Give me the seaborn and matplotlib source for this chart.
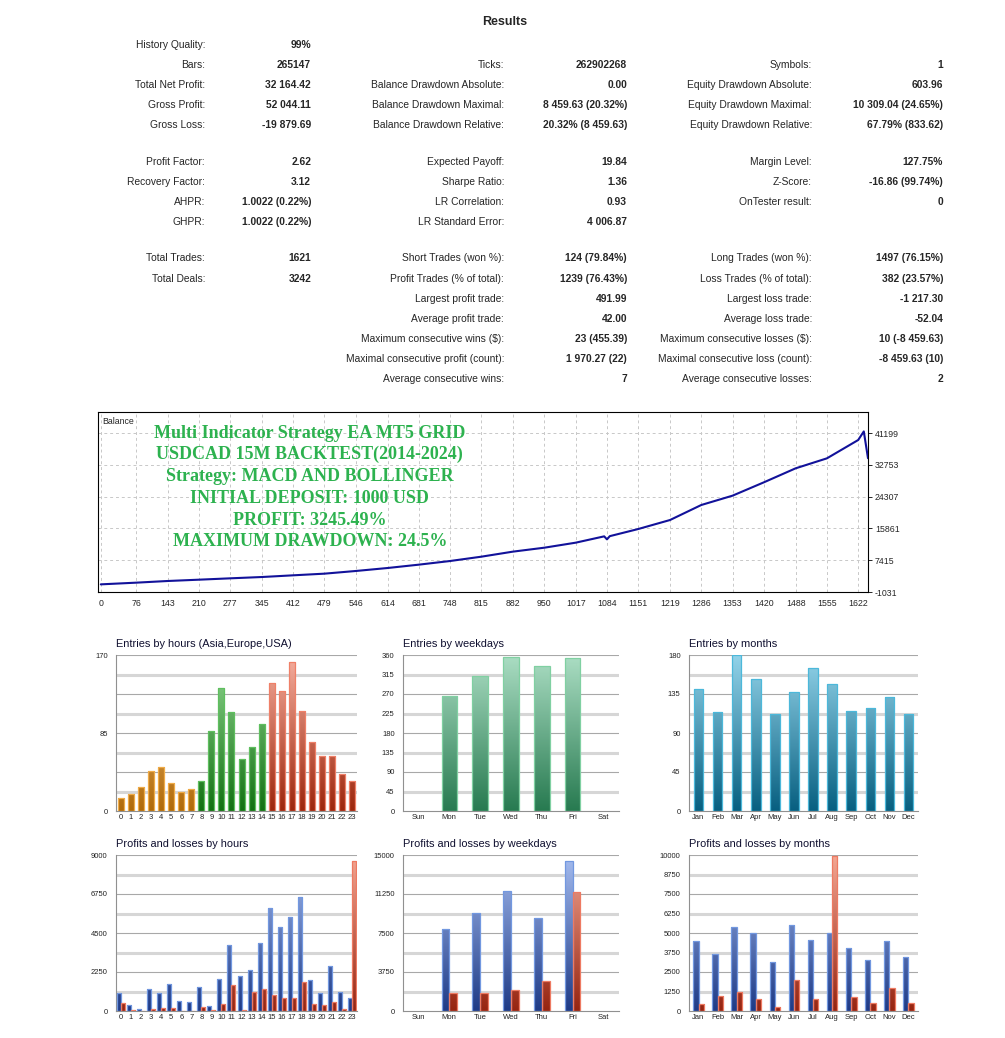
import numpy as np
import pandas as pd
import matplotlib
matplotlib.use("Agg")
import matplotlib.pyplot as plt
import seaborn as sns
from matplotlib.colors import LinearSegmentedColormap, to_hex

sns.set_style("white")
plt.rcParams["font.family"] = ["Liberation Sans", "DejaVu Sans"]

# ------------------------------------------------ data ------------------------------------------------

col1_labels = ["History Quality:", "Bars:", "Total Net Profit:", "Gross Profit:", "Gross Loss:",
               None, "Profit Factor:", "Recovery Factor:", "AHPR:", "GHPR:",
               None, "Total Trades:", "Total Deals:"]
col1_values = ["99%", "265147", "32 164.42", "52 044.11", "-19 879.69",
               None, "2.62", "3.12", "1.0022 (0.22%)", "1.0022 (0.22%)",
               None, "1621", "3242"]
col2_labels = [None, "Ticks:", "Balance Drawdown Absolute:", "Balance Drawdown Maximal:", "Balance Drawdown Relative:",
               None, "Expected Payoff:", "Sharpe Ratio:", "LR Correlation:", "LR Standard Error:",
               None, "Short Trades (won %):", "Profit Trades (% of total):", "Largest profit trade:",
               "Average profit trade:", "Maximum consecutive wins ($):", "Maximal consecutive profit (count):",
               "Average consecutive wins:"]
col2_values = [None, "262902268", "0.00", "8 459.63 (20.32%)", "20.32% (8 459.63)",
               None, "19.84", "1.36", "0.93", "4 006.87",
               None, "124 (79.84%)", "1239 (76.43%)", "491.99", "42.00", "23 (455.39)", "1 970.27 (22)", "7"]
col3_labels = [None, "Symbols:", "Equity Drawdown Absolute:", "Equity Drawdown Maximal:", "Equity Drawdown Relative:",
               None, "Margin Level:", "Z-Score:", "OnTester result:", None,
               None, "Long Trades (won %):", "Loss Trades (% of total):", "Largest loss trade:",
               "Average loss trade:", "Maximum consecutive losses ($):", "Maximal consecutive loss (count):",
               "Average consecutive losses:"]
col3_values = [None, "1", "603.96", "10 309.04 (24.65%)", "67.79% (833.62)",
               None, "127.75%", "-16.86 (99.74%)", "0", None,
               None, "1497 (76.15%)", "382 (23.57%)", "-1 217.30", "-52.04", "10 (-8 459.63)", "-8 459.63 (10)", "2"]

balance_trade = [0, 76, 143, 210, 277, 345, 412, 479, 546, 614, 681, 748, 815, 882, 950, 1017,
                 1078, 1084, 1090, 1151, 1219, 1286, 1353, 1420, 1488, 1555, 1622, 1634, 1643]
balance_value = [1000, 1450, 1890, 2240, 2600, 2950, 3400, 3840, 4550, 5340, 6230, 7200, 8350, 9680, 10740, 12070,
                 13750, 12950, 13800, 15700, 18090, 22080, 24560, 28100, 31820, 34470, 39340, 41620, 34500]
balance_xticks = [0, 76, 143, 210, 277, 345, 412, 479, 546, 614, 681, 748, 815, 882, 950, 1017, 1084,
                  1151, 1219, 1286, 1353, 1420, 1488, 1555, 1622]
balance_yticks = [-1031, 7415, 15861, 24307, 32753, 41199]
balance_notes = ["Multi Indicator Strategy EA MT5 GRID", "USDCAD 15M BACKTEST(2014-2024)",
                 "Strategy: MACD AND BOLLINGER", "INITIAL DEPOSIT: 1000 USD",
                 "PROFIT: 3245.49%", "MAXIMUM DRAWDOWN: 24.5%"]

hours = [str(h) for h in range(24)]
hour_session = ["Asia"] * 8 + ["Europe"] * 7 + ["USA"] * 9
entries_hours = [14, 18, 26, 44, 48, 30, 21, 24, 33, 87, 134, 108, 57, 70, 95,
                 139, 131, 162, 109, 75, 60, 60, 40, 33]
weekdays = ["Sun", "Mon", "Tue", "Wed", "Thu", "Fri", "Sat"]
entries_weekdays = [0, 265, 312, 356, 335, 353, 0]
months = ["Jan", "Feb", "Mar", "Apr", "May", "Jun", "Jul", "Aug", "Sep", "Oct", "Nov", "Dec"]
entries_months = [141, 114, 180, 152, 112, 137, 165, 147, 115, 119, 132, 112]

profit_hours = [1020, 370, 135, 1250, 1040, 1560, 560, 540, 1390, 310, 1830, 3800,
                2020, 2370, 3950, 5920, 4820, 5420, 6590, 1810, 1020, 2580, 1100, 730]
loss_hours = [440, 40, 10, 135, 175, 175, 20, 20, 230, 80, 385, 1480,
              80, 1080, 1290, 945, 770, 750, 1660, 385, 330, 500, 135, 8650]
profit_weekdays = [0, 7840, 9380, 11500, 8990, 14390, 0]
loss_weekdays = [0, 1730, 1730, 2060, 2860, 11440, 0]
profit_months = [4500, 3660, 5400, 5030, 3170, 5520, 4520, 4970, 4030, 3250, 4480, 3450]
loss_months = [470, 960, 1220, 750, 235, 1990, 750, 9960, 900, 490, 1460, 490]

# ------------------------------------------------ helpers ------------------------------------------------

W, H = 1005, 1038
fig = plt.figure(figsize=(W / 100, H / 100), dpi=100)


def px_axes(x0, y0, x1, y1):
    # box given in pixels, y from top
    return fig.add_axes([x0 / W, 1 - y1 / H, (x1 - x0) / W, (y1 - y0) / H])


def gradient_fill(ax, patch, bottom, top, edge, ymax):
    h = patch.get_height()
    if h <= 0:
        patch.set_visible(False)
        return
    cmap = LinearSegmentedColormap.from_list("g", [bottom, top])
    x0 = patch.get_x()
    w = patch.get_width()
    im = ax.imshow(np.linspace(0, 1, 256).reshape(-1, 1), cmap=cmap, origin="lower",
                   aspect="auto", extent=(x0, x0 + w, 0, ymax), zorder=2, interpolation="bilinear")
    im.set_clip_path(patch)
    patch.set_facecolor("none")
    patch.set_edgecolor(edge)
    patch.set_linewidth(0.9)
    patch.set_zorder(3)


def style_small(ax, title, cats, ymax, ticks):
    n = len(cats)
    step = ymax / 8
    for k in range(1, 9):
        if k % 2 == 0:
            ax.axhline(k * step, color="#a8a8a8", lw=0.8, zorder=1)
        else:
            ax.axhline(k * step, color="#d6d6d6", lw=2.2, zorder=1)
    ax.set_xlim(-0.5, n - 0.5)
    ax.set_ylim(0, ymax)
    ax.set_yticks(ticks)
    ax.set_yticklabels([str(t) for t in ticks], fontsize=5.5, color="#222222")
    ax.set_xticks(range(n))
    ax.set_xticklabels(cats, fontsize=5.5, color="#222222")
    ax.set_xticks(np.arange(-0.5, n, 1), minor=True)
    ax.tick_params(axis="x", which="major", length=0, pad=2)
    ax.tick_params(axis="x", which="minor", length=3, color="#909090", width=0.8)
    ax.tick_params(axis="y", length=3, color="#909090", width=0.8, pad=3)
    ax.set_xlabel("")
    ax.set_ylabel("")
    for s in ["top", "right"]:
        ax.spines[s].set_visible(False)
    for s in ["left", "bottom"]:
        ax.spines[s].set_color("#909090")
        ax.spines[s].set_linewidth(0.8)
    ax.text(0.0, 1.04, title, transform=ax.transAxes, fontsize=7.9, color="#101030", va="bottom", ha="left")
    ax.set_facecolor("white")


def entries_chart(box, title, cats, values, ymax, ticks, width, colors):
    ax = px_axes(*box)
    df = pd.DataFrame({"cat": cats, "value": values})
    sns.barplot(data=df, x="cat", y="value", order=cats, color="#888888", width=width, ax=ax)
    for p in ax.patches:
        i = int(round(p.get_x() + p.get_width() / 2))
        bottom, top, edge = colors[i]
        gradient_fill(ax, p, bottom, top, edge, ymax)
    style_small(ax, title, cats, ymax, ticks)
    return ax


profit_style = ("#1e3a86", "#a6bdf0", "#7298e0")
loss_style = ("#962410", "#f4a894", "#ee7a62")


def pl_chart(box, title, cats, profit, loss, ymax, ticks, width):
    ax = px_axes(*box)
    df = pd.DataFrame({"cat": cats * 2, "value": profit + loss,
                       "kind": ["profit"] * len(cats) + ["loss"] * len(cats)})
    sns.barplot(data=df, x="cat", y="value", hue="kind", order=cats, hue_order=["profit", "loss"],
                palette={"profit": "#0000ff", "loss": "#ff0000"}, saturation=1,
                width=width, ax=ax, legend=False)
    for p in ax.patches:
        st = profit_style if to_hex(p.get_facecolor()) == "#0000ff" else loss_style
        gradient_fill(ax, p, st[0], st[1], st[2], ymax)
    style_small(ax, title, cats, ymax, ticks)
    return ax


# ------------------------------------------------ results table ------------------------------------------------

fig.text(505 / W, 1 - 22 / H, "Results", ha="center", va="center", fontsize=9, fontweight="bold")

row_y = [45, 65, 85, 105, 125, 143, 162, 182, 202, 222, 240, 258, 279, 299, 319, 339, 359, 379]
columns = [(col1_labels, col1_values, 205, 311), (col2_labels, col2_values, 504, 627),
           (col3_labels, col3_values, 812, 943)]
for labels, values, lx, vx in columns:
    for i, (lab, val) in enumerate(zip(labels, values)):
        if lab is None:
            continue
        y = 1 - row_y[i] / H
        fig.text(lx / W, y, lab, ha="right", va="center", fontsize=7.4)
        fig.text(vx / W, y, val, ha="right", va="center", fontsize=7.4, fontweight="bold")

# ------------------------------------------------ balance chart ------------------------------------------------

bax = px_axes(98, 412, 868, 592)
sns.lineplot(x=balance_trade, y=balance_value, color="#12129a", lw=1.5, ax=bax, zorder=3)
bax.set_xlim(-6, 1643)
bax.set_ylim(-1031, 46780)
bax.set_xticks(balance_xticks)
bax.set_xticklabels([str(t) for t in balance_xticks], fontsize=6.3)
bax.set_yticks(balance_yticks)
bax.set_yticklabels([str(t) for t in balance_yticks], fontsize=6.3)
bax.yaxis.tick_right()
bax.tick_params(axis="both", length=3, width=0.7, pad=2)
bax.grid(True, ls=(0, (3, 3)), color="#c8c8c8", lw=0.7)
for s in bax.spines.values():
    s.set_color("black")
    s.set_linewidth(0.8)
bax.text(0.006, 0.975, "Balance", transform=bax.transAxes, fontsize=6.3, va="top", ha="left")
for i, line in enumerate(balance_notes):
    bax.text(0.275, 1 - (433 + i * 21.8 - 412) / 180, line, transform=bax.transAxes,
             ha="center", va="center", fontsize=13, fontweight="bold", color="#2db24f",
             family=["Liberation Serif", "DejaVu Serif"])

# ------------------------------------------------ distributions ------------------------------------------------

session_colors = {"Asia": ("#b06a0a", "#f8c988", "#f0ac48"),
                  "Europe": ("#137013", "#92d892", "#5fbf5f"),
                  "USA": ("#9c260c", "#f6b0a0", "#ef8068")}
entries_chart((116, 655, 357, 811), "Entries by hours (Asia,Europe,USA)", hours, entries_hours,
              170, [0, 85, 170], 0.6, [session_colors[s] for s in hour_session])
entries_chart((403, 655, 619, 811), "Entries by weekdays", weekdays, entries_weekdays,
              360, list(range(0, 361, 45)), 0.5, [("#277a50", "#acdec4", "#80d0a2")] * 7)
entries_chart((689, 655, 918, 811), "Entries by months", months, entries_months,
              180, [0, 45, 90, 135, 180], 0.5, [("#075f80", "#94d4ea", "#4cb8da")] * 12)

pl_chart((116, 855, 357, 1011), "Profits and losses by hours", hours, profit_hours, loss_hours,
         9000, [0, 2250, 4500, 6750, 9000], 0.8)
pl_chart((403, 855, 619, 1011), "Profits and losses by weekdays", weekdays, profit_weekdays, loss_weekdays,
         15000, [0, 3750, 7500, 11250, 15000], 0.5)
pl_chart((689, 855, 918, 1011), "Profits and losses by months", months, profit_months, loss_months,
         10000, list(range(0, 10001, 1250)), 0.56)

plt.savefig("out.png", dpi=100)
